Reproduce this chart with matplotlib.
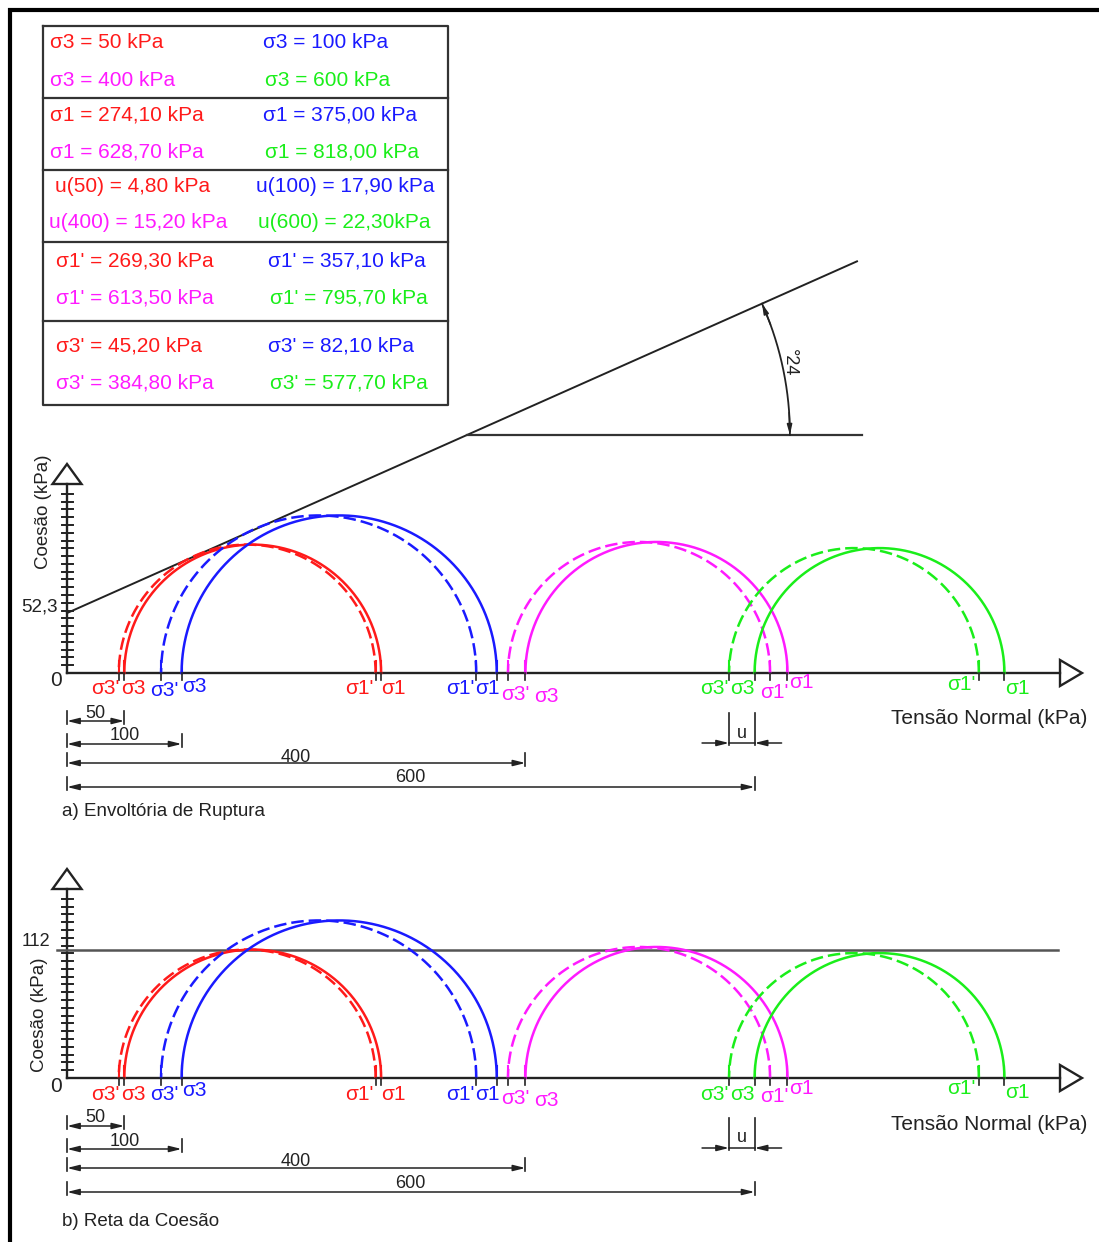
import numpy as np
import matplotlib
matplotlib.use('Agg')
import matplotlib.pyplot as plt
from matplotlib.patches import Polygon, ArrowStyle

plt.rcParams['font.family'] = ['Liberation Sans', 'DejaVu Sans']

# ---------------- data ----------------
sigma3 = [50, 100, 400, 600]
sigma1 = [274.10, 375.00, 628.70, 818.00]
u_pore = [4.80, 17.90, 15.20, 22.30]
sigma1_eff = [269.30, 357.10, 613.50, 795.70]
sigma3_eff = [45.20, 82.10, 384.80, 577.70]
cohesion = 52.3
phi_deg = 24
cohesion_line = 112
colors = ['#ff1a1a', '#1a1aff', '#ff1aff', '#1aee1a']

# ---------------- layout ----------------
W, H = 1099, 1242
S = 1.146          # pixels per kPa
X0 = 67            # x pixel of origin
p = 1.0 / S        # kPa per pixel

fig = plt.figure(figsize=(W / 100, H / 100), dpi=100)

over = fig.add_axes([0, 0, 1, 1])
over.set_xlim(0, W)
over.set_ylim(H, 0)
over.axis('off')

# page border
over.plot([8, W], [9.5, 9.5], color='black', lw=3, solid_capstyle='butt')
over.plot([9.5, 9.5], [8, H], color='black', lw=3, solid_capstyle='butt')

# ---------------- table ----------------
def fmt(v):
    return f"{v:.2f}".replace('.', ',')

groups = [
    [f"σ3 = {v:g} kPa" for v in sigma3],
    [f"σ1 = {fmt(v)} kPa" for v in sigma1],
    [f"u({s:g}) = {fmt(v)}{'' if i == 3 else ' '}kPa" for i, (s, v) in enumerate(zip(sigma3, u_pore))],
    [f"σ1' = {fmt(v)} kPa" for v in sigma1_eff],
    [f"σ3' = {fmt(v)} kPa" for v in sigma3_eff],
]
row_y = [[43, 80], [115, 152], [186, 222], [261, 298], [346, 383]]
col1_x = [[50, 50], [50, 50], [55, 49], [56, 56], [56, 56]]
col2_x = [[263, 265], [263, 265], [256, 258], [268, 270], [268, 270]]

tx0, tx1 = 43, 448
ty = [26, 98, 170, 242, 321, 405]
over.plot([tx0, tx1, tx1, tx0, tx0], [ty[0], ty[0], ty[-1], ty[-1], ty[0]],
          color='#333333', lw=1.6)
for y in ty[1:-1]:
    over.plot([tx0, tx1], [y, y], color='#333333', lw=1.6)

for g, strs in enumerate(groups):
    for i, s in enumerate(strs):
        r = i // 2
        x = col1_x[g][r] if i % 2 == 0 else col2_x[g][r]
        over.text(x, row_y[g][r], s, color=colors[i], fontsize=15,
                  ha='left', va='center')


# ---------------- diagrams ----------------
def make_axes(y_top, y_bot, y0):
    ax = fig.add_axes([0, (H - y_bot) / H, 1, (y_bot - y_top) / H])
    ax.set_xlim(-X0 * p, (W - X0) * p)
    ax.set_ylim((y0 - y_bot) * p, (y0 - y_top) * p)
    ax.axis('off')
    ax.patch.set_visible(False)
    return ax


tick_labels = [
    (sigma3_eff, 0, "σ3'", 'right', 1, 16),
    (sigma3, 0, "σ3", 'left', -3, 16),
    (sigma3_eff, 1, "σ3'", 'center', 3, 17),
    (sigma3, 1, "σ3", 'left', 1, 13),
    (sigma1_eff, 0, "σ1'", 'right', -2, 16),
    (sigma1, 0, "σ1", 'left', 0, 16),
    (sigma1_eff, 1, "σ1'", 'right', -2, 16),
    (sigma1, 1, "σ1", 'right', 3, 16),
    (sigma3_eff, 2, "σ3'", 'left', -7, 21),
    (sigma3, 2, "σ3", 'left', 9, 23),
    (sigma3_eff, 3, "σ3'", 'right', -1, 16),
    (sigma3, 3, "σ3", 'right', 0, 16),
    (sigma1_eff, 2, "σ1'", 'center', 4, 19),
    (sigma1, 2, "σ1", 'left', 2, 10),
    (sigma1_eff, 3, "σ1'", 'right', -3, 11),
    (sigma1, 3, "σ1", 'left', 1, 15),
]

dim_style = ArrowStyle('<|-|>', head_length=0.6, head_width=0.15)
one_style = ArrowStyle('-|>', head_length=0.6, head_width=0.15)


def diagram(ax, kind):
    th = np.linspace(0, np.pi, 500)
    for i in range(4):
        for s3, s1, dashed in ((sigma3[i], sigma1[i], False),
                               (sigma3_eff[i], sigma1_eff[i], True)):
            c = (s1 + s3) / 2
            r = (s1 - s3) / 2
            ln, = ax.plot(c + r * np.cos(th), r * np.sin(th), color=colors[i],
                          lw=1.8, zorder=3)
            if dashed:
                ln.set_dashes((5, 2))

    # axes lines
    x_end = (1060 - X0) * p
    ax.plot([0, x_end], [0, 0], color='#222222', lw=1.7, zorder=2)
    ax.add_patch(Polygon([[x_end, 13 * p], [x_end + 22 * p, 0], [x_end, -13 * p]],
                         closed=True, fill=False, ec='#222222', lw=1.7))
    y_end = 189 * p
    ax.plot([0, 0], [0, y_end], color='#222222', lw=1.7, zorder=2)
    ax.add_patch(Polygon([[-14.5 * p, y_end], [0, y_end + 20 * p], [14.5 * p, y_end]],
                         closed=True, fill=False, ec='#222222', lw=1.7))
    for k in range(1, 24):
        t = k * 6.8
        ax.plot([-5.5 * p, 5.5 * p], [t, t], color='#222222', lw=1.4)

    # stress ticks and labels
    for arr in (sigma3, sigma3_eff, sigma1, sigma1_eff):
        for i, v in enumerate(arr):
            ax.plot([v, v], [0, 12 * p], color=colors[i], lw=1.5, zorder=4)
            ax.plot([v, v], [0, -7 * p], color='#222222', lw=1.2, zorder=4)
    for arr, i, txt, ha, dx, dy in tick_labels:
        ax.annotate(txt, xy=(arr[i], 0), xytext=(dx, -dy), textcoords='offset pixels',
                    ha=ha, va='center', color=colors[i], fontsize=15)

    ax.annotate('0', xy=(0, 0), xytext=(-11, -8), textcoords='offset pixels',
                ha='center', va='center', fontsize=15, color='#222222')
    ax.annotate('Tensão Normal (kPa)', xy=((1087 - X0) * p, 0), xytext=(0, -46),
                textcoords='offset pixels', ha='right', va='center', fontsize=15,
                color='#222222')

    # dimension lines
    dim_y = [48, 71, 90, 114]
    dim_ly = [40, 63, 84, 105]
    for v, ly, lty in zip(sigma3, dim_y, dim_ly):
        yy = -ly * p
        ax.annotate('', xy=(0, yy), xytext=(v, yy),
                    arrowprops=dict(arrowstyle=dim_style, mutation_scale=12, lw=1.1,
                                    color='#222222', shrinkA=0, shrinkB=0))
        for xv in (0, v):
            ax.plot([xv, xv], [yy - 3 * p, yy + 10 * p], color='#222222', lw=1.2)
        ax.text(v / 2, -lty * p, f"{v:g}", ha='center', va='center', fontsize=13,
                color='#222222')

    # pore pressure dimension (u)
    a, b = sigma3_eff[3], sigma3[3]
    yy = -70 * p
    for xv in (a, b):
        ax.plot([xv, xv], [-72 * p, -40 * p], color='#222222', lw=1.2)
    ax.plot([a, b], [yy, yy], color='#222222', lw=1.1)
    ax.annotate('', xy=(a, yy), xytext=(a - 27 * p, yy),
                arrowprops=dict(arrowstyle=one_style, mutation_scale=12, lw=1.1,
                                color='#222222', shrinkA=0, shrinkB=0))
    ax.annotate('', xy=(b, yy), xytext=(b + 27 * p, yy),
                arrowprops=dict(arrowstyle=one_style, mutation_scale=12, lw=1.1,
                                color='#222222', shrinkA=0, shrinkB=0))
    ax.text((a + b) / 2, -60 * p, 'u', ha='center', va='center', fontsize=13,
            color='#222222')


# ---------- (a) failure envelope ----------
axA = make_axes(240, 840, 673)
diagram(axA, 'a')
tanp = np.tan(np.radians(phi_deg))
s_end = (857 - X0) * p
axA.plot([0, s_end], [cohesion, cohesion + tanp * s_end], color='#222222', lw=1.4, zorder=2)
tau_h = 238 * p
s_int = (tau_h - cohesion) / tanp
axA.plot([s_int, (862 - X0) * p], [tau_h, tau_h], color='#333333', lw=1.6)
R = 323 * p
ang = np.radians(np.linspace(0, phi_deg, 200))
axA.plot(s_int + R * np.cos(ang), tau_h + R * np.sin(ang), color='#222222', lw=1.3)
for a0, a1 in ((np.radians(4), 0.0), (np.radians(phi_deg - 4), np.radians(phi_deg))):
    axA.annotate('', xy=(s_int + R * np.cos(a1), tau_h + R * np.sin(a1)),
                 xytext=(s_int + R * np.cos(a0), tau_h + R * np.sin(a0)),
                 arrowprops=dict(arrowstyle=one_style, mutation_scale=10, lw=1.1,
                                 color='#222222', shrinkA=0, shrinkB=0))
am = np.radians(phi_deg / 2)
# angle label, rotated like the CAD text (degree sign ends up above/right of the digits)
axA.annotate(f"°{phi_deg}", xy=(s_int + R * np.cos(am), tau_h + R * np.sin(am)),
             xytext=(6, 5), textcoords='offset pixels', rotation=270,
             ha='center', va='center', fontsize=13, color='#222222')
axA.annotate('52,3', xy=(0, cohesion), xytext=(-9, 6), textcoords='offset pixels',
             ha='right', va='center', fontsize=13.5, color='#222222')
axA.annotate('Coesão (kPa)', xy=(0, 0), xytext=(-23, 161), textcoords='offset pixels',
             rotation=90, ha='center', va='center', fontsize=13.5, color='#222222')
axA.annotate('a) Envoltória de Ruptura', xy=(0, 0), xytext=(-5, -139),
             textcoords='offset pixels', ha='left', va='center', fontsize=13.5,
             color='#222222')

# ---------- (b) cohesion line ----------
axB = make_axes(845, 1242, 1078)
diagram(axB, 'b')
axB.plot([-10 * p, (1058 - X0) * p], [cohesion_line, cohesion_line], color='#555555',
         lw=1.8, zorder=2)
axB.annotate(f"{cohesion_line:g}", xy=(0, cohesion_line), xytext=(-17, 8),
             textcoords='offset pixels', ha='right', va='center', fontsize=13,
             color='#222222')
axB.annotate('Coesão (kPa)', xy=(0, 0), xytext=(-27, 63), textcoords='offset pixels',
             rotation=90, ha='center', va='center', fontsize=13.5, color='#222222')
axB.annotate('b) Reta da Coesão', xy=(0, 0), xytext=(-5, -144),
             textcoords='offset pixels', ha='left', va='center', fontsize=13.5,
             color='#222222')

fig.savefig('out.png', dpi=100)
